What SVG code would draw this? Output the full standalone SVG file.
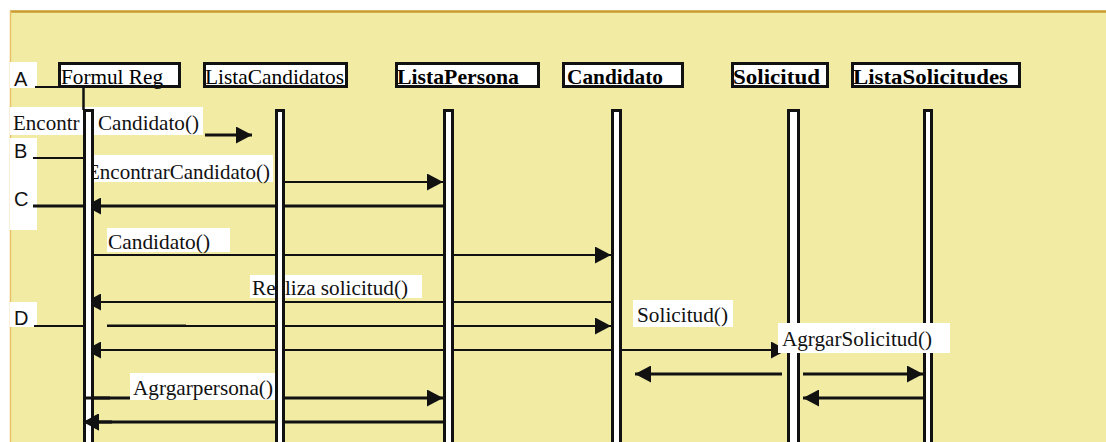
<svg xmlns="http://www.w3.org/2000/svg" width="1106" height="442" viewBox="0 0 1106 442">
  <defs>
    <marker id="head" markerUnits="userSpaceOnUse" markerWidth="16" markerHeight="17" refX="16" refY="8.5" orient="auto-start-reverse">
      <path d="M0,0 L16,8.5 L0,17 Z" fill="#111"/>
    </marker>
  </defs>
  <style>
    .lbl{font-size:21px;fill:#111}
    .hdr{font-size:22px;fill:#000}
    .b{font-weight:bold}
    .tag{font-size:20px;fill:#111}
    .box{fill:#fff}
    .frame{fill:none;stroke:#111;stroke-width:3}
    .bar{fill:#fff;stroke:#111;stroke-width:3}
    .stub{stroke:#111;stroke-width:2.5}
    .msg{stroke:#111;fill:none;stroke-width:2}
    .thick{stroke-width:3}
    .arr{marker-end:url(#head)}
    .both{marker-start:url(#head);marker-end:url(#head)}
  </style>

  <!-- page and panel -->
  <rect width="1106" height="442" fill="#fff"/>
  <rect x="10" y="11" width="1096" height="431" fill="#F2EBA4"/>
  <line x1="10" y1="11.5" x2="1106" y2="11.5" stroke="#C99A2E" stroke-width="2.5"/>
  <line x1="10.5" y1="11" x2="10.5" y2="442" stroke="#E9C169" stroke-width="1.5"/>

  <!-- step markers on the left -->
  <g id="markers" font-family="Liberation Sans, Arial, sans-serif">
    <rect class="box" x="10" y="62" width="27" height="26"/>
    <rect class="box" x="10" y="138" width="27" height="92"/>
    <rect class="box" x="10" y="302" width="27" height="25"/>
    <text class="tag" x="14" y="86">A</text>
    <text class="tag" x="14" y="158">B</text>
    <text class="tag" x="14" y="206">C</text>
    <text class="tag" x="14" y="325">D</text>
  </g>

  <!-- first call label -->
  <g id="first-label" font-family="Liberation Serif, DejaVu Serif, serif">
    <rect class="box" x="10" y="107" width="193" height="28"/>
    <text class="lbl" x="13" y="130">Encontr</text>
    <text class="lbl" x="98" y="130" textLength="101" lengthAdjust="spacingAndGlyphs">Candidato()</text>
  </g>

  <!-- messages -->
  <g id="connectors">
    <path class="msg" d="M35,87 H83" stroke-width="2.5"/>
    <path class="msg" d="M33,158 H83"/>
    <path class="msg thick" d="M33,206 H83"/>
    <path class="msg" d="M34,326 H83"/>
    <path class="msg thick arr" d="M205,135 H252"/>
    <path class="msg arr" d="M285,182 H443"/>
    <path class="msg thick arr" d="M443,206 H85"/>
    <path class="msg arr" d="M93,255 H611"/>
    <path class="msg arr" d="M611,302 H85"/>
    <path class="msg arr" d="M107,326 H611"/>
    <path class="msg" d="M107,325.5 H186" stroke-width="3.5"/>
    <path class="msg both" d="M85,350 H787" stroke-width="2.5"/>
    <path class="msg thick arr" d="M782,374 H635"/>
    <path class="msg thick arr" d="M803,374 H923"/>
    <path class="msg thick arr" d="M923,398 H803"/>
    <path class="msg thick arr" d="M83,398 H443"/>
    <path class="msg thick arr" d="M443,422 H83"/>
  </g>

  <!-- message labels -->
  <g id="labels" font-family="Liberation Serif, DejaVu Serif, serif">
    <rect class="box" x="90" y="155" width="183" height="27"/>
    <text class="lbl" x="87" y="179" textLength="183" lengthAdjust="spacingAndGlyphs">EncontrarCandidato()</text>
    <rect class="box" x="107" y="228" width="123" height="24"/>
    <text class="lbl" x="108" y="249" textLength="102" lengthAdjust="spacingAndGlyphs">Candidato()</text>
    <rect class="box" x="250" y="275" width="172" height="23"/>
    <text class="lbl" x="252" y="295" textLength="156" lengthAdjust="spacingAndGlyphs">Realiza solicitud()</text>
    <rect class="box" x="633" y="300" width="100" height="27"/>
    <text class="lbl" x="637" y="322" textLength="91" lengthAdjust="spacingAndGlyphs">Solicitud()</text>
    <rect class="box" x="130" y="373" width="147" height="27"/>
    <text class="lbl" x="133" y="395" textLength="140" lengthAdjust="spacingAndGlyphs">Agrgarpersona()</text>
  </g>

  <!-- objects with their lifelines -->
  <g id="objects" font-family="Liberation Serif, DejaVu Serif, serif">
    <g id="formul-reg">
      <rect class="box" x="59.5" y="63.5" width="120" height="23"/>
      <text class="hdr" x="61" y="84" textLength="102" lengthAdjust="spacingAndGlyphs">Formul Reg</text>
      <rect class="frame" x="59.5" y="63.5" width="120" height="23"/>
      <line class="stub" x1="83.5" y1="88" x2="83.5" y2="110"/>
      <rect class="bar" x="84.5" y="110.5" width="8" height="340"/>
    </g>
    <g id="lista-candidatos">
      <rect class="box" x="204.5" y="63.5" width="142" height="23"/>
      <text class="hdr" x="205" y="84" textLength="139" lengthAdjust="spacingAndGlyphs">ListaCandidatos</text>
      <rect class="frame" x="204.5" y="63.5" width="142" height="23"/>
      <rect class="bar" x="276.5" y="110.5" width="7" height="340"/>
    </g>
    <g id="lista-persona">
      <rect class="box" x="396.5" y="63.5" width="142" height="23"/>
      <text class="hdr b" x="397" y="84" textLength="122" lengthAdjust="spacingAndGlyphs">ListaPersona</text>
      <rect class="frame" x="396.5" y="63.5" width="142" height="23"/>
      <rect class="bar" x="444.5" y="110.5" width="8" height="340"/>
    </g>
    <g id="candidato">
      <rect class="box" x="563.5" y="63.5" width="119" height="23"/>
      <text class="hdr b" x="567" y="84" textLength="96" lengthAdjust="spacingAndGlyphs">Candidato</text>
      <rect class="frame" x="563.5" y="63.5" width="119" height="23"/>
      <rect class="bar" x="612.5" y="110.5" width="8" height="340"/>
    </g>
    <g id="solicitud">
      <rect class="box" x="732.5" y="63.5" width="95" height="23"/>
      <text class="hdr b" x="733" y="84" textLength="87" lengthAdjust="spacingAndGlyphs">Solicitud</text>
      <rect class="frame" x="732.5" y="63.5" width="95" height="23"/>
      <rect class="bar" x="788.5" y="110.5" width="10" height="340"/>
    </g>
    <g id="lista-solicitudes">
      <rect class="box" x="852.5" y="63.5" width="167" height="23"/>
      <text class="hdr b" x="853" y="84" textLength="155" lengthAdjust="spacingAndGlyphs">ListaSolicitudes</text>
      <rect class="frame" x="852.5" y="63.5" width="167" height="23"/>
      <rect class="bar" x="924.5" y="110.5" width="7" height="340"/>
    </g>
  </g>

  <!-- pieces drawn above the lifelines -->
  <g id="connectors-front">
    <path class="msg thick" d="M83,398 H110"/>
    <path class="msg thick arr" d="M112,422 H83"/>
  </g>
  <g id="label-front" font-family="Liberation Serif, DejaVu Serif, serif">
    <rect class="box" x="778" y="323" width="172" height="30"/>
    <text class="lbl" x="782" y="346" textLength="150" lengthAdjust="spacingAndGlyphs">AgrgarSolicitud()</text>
  </g>
</svg>
